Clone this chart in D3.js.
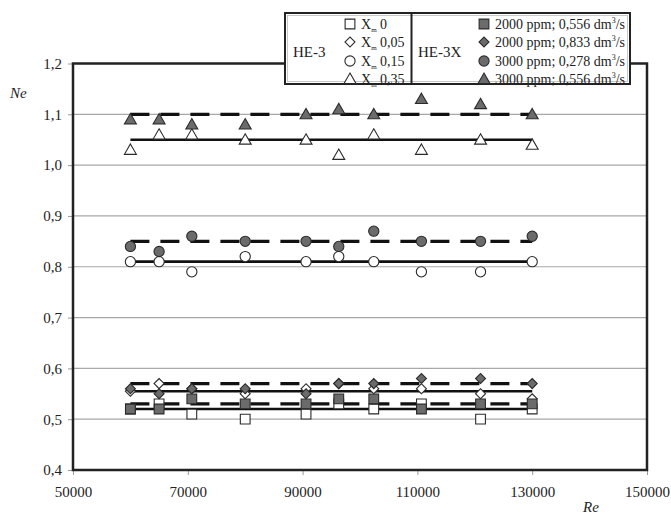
<!DOCTYPE html>
<html>
<head>
<meta charset="utf-8">
<script src="https://cdn.jsdelivr.net/npm/d3@7"></script>
<style>
  body { margin: 0; background: #fff; }
  svg text { font-family: "Liberation Serif", "DejaVu Serif", serif; fill: #222; }
</style>
</head>
<body>
<svg id="chart" width="671" height="516"></svg>
<script>
// Reynolds numbers (x) shared by every series
let re = [60000, 65000, 70700, 80000, 90600, 96300, 102400, 110700, 121000, 130000];

// HE-3, open markers
let he3X0 = [0.52, 0.53, 0.51, 0.50, 0.51, 0.53, 0.52, 0.53, 0.50, 0.52];
let he3X005 = [0.555, 0.57, 0.56, 0.55, 0.56, 0.57, 0.56, 0.56, 0.55, 0.54];
let he3X015 = [0.81, 0.81, 0.79, 0.82, 0.81, 0.82, 0.81, 0.79, 0.79, 0.81];
let he3X035 = [1.03, 1.06, 1.06, 1.05, 1.05, 1.02, 1.06, 1.03, 1.05, 1.04];

// HE-3X, filled markers
let he3x2000a = [0.52, 0.52, 0.54, 0.53, 0.53, 0.54, 0.54, 0.52, 0.53, 0.53];
let he3x2000b = [0.56, 0.55, 0.56, 0.56, 0.55, 0.57, 0.57, 0.58, 0.58, 0.57];
let he3x3000a = [0.84, 0.83, 0.86, 0.85, 0.85, 0.84, 0.87, 0.85, 0.85, 0.86];
let he3x3000b = [1.09, 1.09, 1.08, 1.08, 1.10, 1.11, 1.10, 1.13, 1.12, 1.10];

// mean lines: solid for HE-3, dashed for HE-3X
let he3Means = [0.52, 0.555, 0.81, 1.05];
let he3xMeans = [0.53, 0.57, 0.85, 1.10];
let lineRange = [60000, 130000];

let xTicks = [50000, 70000, 90000, 110000, 130000, 150000];
let yTicks = [0.4, 0.5, 0.6, 0.7, 0.8, 0.9, 1.0, 1.1, 1.2];

let he3Labels = ["0", "0,05", "0,15", "0,35"];
let he3xLabels = [
  ["2000 ppm; 0,556 dm", "/s"],
  ["2000 ppm; 0,833 dm", "/s"],
  ["3000 ppm; 0,278 dm", "/s"],
  ["3000 ppm; 0,556 dm", "/s"],
];

let shapes = ["square", "diamond", "circle", "triangle"];
let openSeries = [he3X0, he3X005, he3X015, he3X035];
let filledSeries = [he3x2000a, he3x2000b, he3x3000a, he3x3000b];

///////////////    Drawing    ////////////////

let svg = d3.select("#chart");
let x = d3.scaleLinear().domain([50000, 150000]).range([73, 647]);
let y = d3.scaleLinear().domain([0.4, 1.2]).range([470, 63.5]);
let comma = (v) => String(v).replace(".", ",");

// grid lines
svg.append("g")
  .selectAll("line")
  .data(yTicks.slice(1, -1))
  .enter()
  .append("line")
  .attr("x1", x(50000))
  .attr("x2", x(150000))
  .attr("y1", (d) => y(d))
  .attr("y2", (d) => y(d))
  .attr("stroke", "#a8a8a8")
  .attr("stroke-width", 1.2);

// axes
let yAxis = svg.append("g")
  .attr("transform", "translate(" + x(50000) + ",0)")
  .call(d3.axisLeft(y).tickValues(yTicks).tickFormat((d) => comma(d3.format(".1f")(d))).tickSize(5).tickPadding(6));
let xAxis = svg.append("g")
  .attr("transform", "translate(0," + y(0.4) + ")")
  .call(d3.axisBottom(x).tickValues(xTicks).tickFormat(d3.format("d")).tickSize(5).tickPadding(11));
[xAxis, yAxis].forEach((a) => {
  a.select(".domain").remove();
  a.selectAll(".tick line").attr("stroke", "#999");
  a.selectAll("text").style("font-size", "15px").attr("fill", "#222");
});

// plot frame
svg.append("rect")
  .attr("x", x(50000))
  .attr("y", y(1.2))
  .attr("width", x(150000) - x(50000))
  .attr("height", y(0.4) - y(1.2))
  .attr("fill", "none")
  .attr("stroke", "#222")
  .attr("stroke-width", 2.5);

// axis titles
svg.append("text").attr("x", 10).attr("y", 98).style("font-size", "15px").style("font-style", "italic").text("Ne");
svg.append("text").attr("x", 583).attr("y", 512).style("font-size", "15px").style("font-style", "italic").text("Re");

// mean lines
function meanLines(values, dashed) {
  svg.append("g")
    .selectAll("line")
    .data(values)
    .enter()
    .append("line")
    .attr("x1", x(lineRange[0]))
    .attr("x2", x(lineRange[1]))
    .attr("y1", (d) => y(d))
    .attr("y2", (d) => y(d))
    .attr("stroke", "#111")
    .attr("stroke-width", dashed ? 3.2 : 2.6)
    .attr("stroke-dasharray", dashed ? "19,11" : null);
}
meanLines(he3Means, false);
meanLines(he3xMeans, true);

// marker paths
function markerPath(shape) {
  if (shape === "square") return d3.symbol(d3.symbolSquare, 95)();
  if (shape === "diamond") return d3.symbol(d3.symbolSquare, 50)();
  if (shape === "circle") return d3.symbol(d3.symbolCircle, 82)();
  return d3.symbol(d3.symbolTriangle, 62)();
}

function drawMarker(sel, shape, filled) {
  sel.append("path")
    .attr("d", markerPath(shape))
    .attr("transform", (d) => "translate(" + d[0] + "," + d[1] + ")" + (shape === "diamond" ? " rotate(45)" : "") + (shape === "triangle" ? " translate(0,1)" : ""))
    .attr("fill", filled ? "#6b6b6b" : "#fff")
    .attr("stroke", "#2a2a2a")
    .attr("stroke-width", 1.1);
}

function drawSeries(values, shape, filled) {
  let pts = values.map((v, i) => [x(re[i]), y(v)]);
  let g = svg.append("g").selectAll("g").data(pts).enter().append("g");
  drawMarker(g, shape, filled);
}

openSeries.forEach((s, i) => drawSeries(s, shapes[i], false));
filledSeries.forEach((s, i) => drawSeries(s, shapes[i], true));

///////////////    Legend    ////////////////

let legend = svg.append("g");
legend.append("rect")
  .attr("x", 285).attr("y", 13).attr("width", 345).attr("height", 71)
  .attr("fill", "#ffffff").attr("stroke", "#222").attr("stroke-width", 2);
legend.append("rect")
  .attr("x", 287.5).attr("y", 15.5).attr("width", 340).attr("height", 66)
  .attr("fill", "none").attr("stroke", "#bbb").attr("stroke-width", 0.8);
legend.append("line")
  .attr("x1", 411.5).attr("x2", 411.5).attr("y1", 13).attr("y2", 84)
  .attr("stroke", "#222").attr("stroke-width", 2);

let rowY = [24, 42, 61, 79];

legend.append("text").attr("x", 293).attr("y", 57).style("font-size", "15px").text("HE-3");
legend.append("text").attr("x", 418).attr("y", 57).style("font-size", "15px").text("HE-3X");

he3Labels.forEach((lab, i) => {
  drawMarker(legend.append("g").datum([350, rowY[i]]), shapes[i], false);
  let t = legend.append("text").attr("x", 361).attr("y", rowY[i] + 5).style("font-size", "14px");
  t.append("tspan").text("X");
  t.append("tspan").attr("dy", 3).style("font-size", "7px").text("m");
  t.append("tspan").attr("dy", -3).text(" " + lab);
});

he3xLabels.forEach((lab, i) => {
  drawMarker(legend.append("g").datum([484, rowY[i]]), shapes[i], true);
  let t = legend.append("text").attr("x", 495).attr("y", rowY[i] + 5).style("font-size", "14px");
  t.append("tspan").text(lab[0]);
  t.append("tspan").attr("dy", -6).style("font-size", "8px").text("3");
  t.append("tspan").attr("dy", 6).text(lab[1]);
});
</script>
</body>
</html>
